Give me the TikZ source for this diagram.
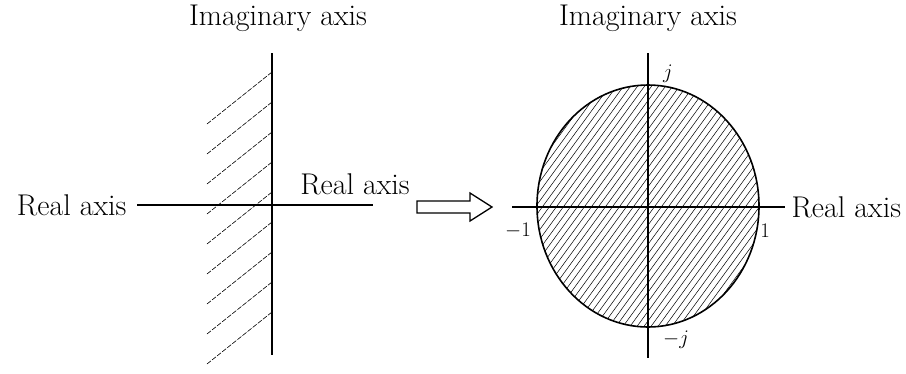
\documentclass[tikz,border=0pt]{standalone}
\usepackage{tikz}
\usetikzlibrary{positioning,calc}

\begin{document}
\begin{tikzpicture}[x=1pt, y=-1pt, line width=1.1pt,
    axislabel/.style={font=\fontsize{30}{34}\selectfont, inner sep=0pt},
    ticklabel/.style={font=\fontsize{20}{22}\selectfont, inner sep=0pt},
    hatch/.style={line width=0.6pt, dash pattern=on 5pt off 1.5pt},
    dense/.style={line width=0.5pt}]
    \useasboundingbox (0,0) rectangle (906,373);

    % s-plane: left half-plane hatched
    \coordinate (sTop) at (272,53);
    \coordinate (sBot) at (272,355);
    \coordinate (sLeft) at (137,205);
    \coordinate (sRight) at (373,205);
    \draw (sTop) -- (sBot);
    \draw (sLeft) -- (sRight);
    \foreach \k in {0,...,8}
        \draw[hatch] (207,124+30*\k) -- (272,72+30*\k);
    \node[axislabel] (sImag) at (278,18) {Imaginary axis};
    \node[axislabel, left=10pt of sLeft] (sReal) {Real axis};
    \node[axislabel] (sRealUp) at (355,184) {Real axis};

    % mapping arrow
    \draw[line width=1.3pt] (417,201) -- (470,201) -- (470,193) -- (492,207)
        -- (470,221) -- (470,213) -- (417,213) -- cycle;

    % z-plane: unit circle hatched
    \begin{scope}
        \clip (648,206) ellipse (111 and 121);
        \foreach \k in {-36,...,36}
            \draw[dense] (648+7*\k-95,336) -- (648+7*\k+95,76);
    \end{scope}
    \draw[line width=1.6pt] (648,206) ellipse (111 and 121);
    \coordinate (zTop) at (648,53);
    \coordinate (zBot) at (648,358);
    \coordinate (zLeft) at (512,207);
    \coordinate (zRight) at (785,207);
    \draw (zTop) -- (zBot);
    \draw (zLeft) -- (zRight);
    \node[axislabel] (zImag) at (648,18) {Imaginary axis};
    \node[axislabel, right=6pt of zRight] (zReal) {Real axis};
    \node[ticklabel] (zj) at (668,74) {$j$};
    \node[ticklabel] (zmj) at (676,340) {$-j$};
    \node[ticklabel] (zm1) at (518,231) {$-1$};
    \node[ticklabel] (z1) at (765,231) {$1$};
\end{tikzpicture}
\end{document}
